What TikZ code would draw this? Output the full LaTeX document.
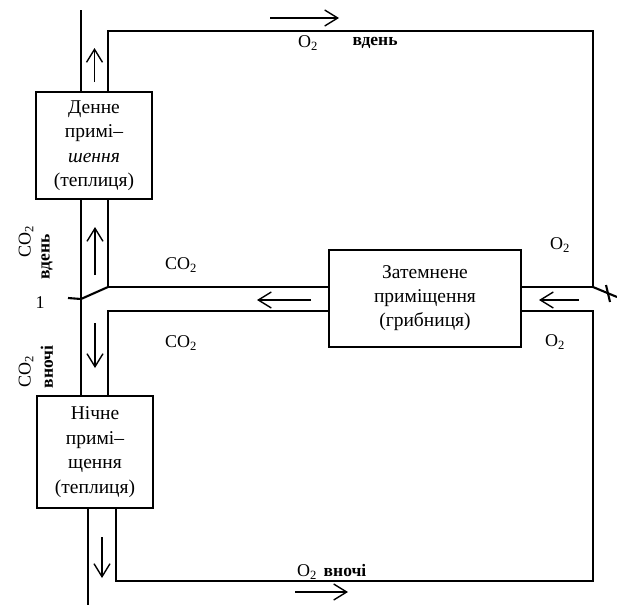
\documentclass[tikz,border=0pt]{standalone}
\usepackage{fontspec}
\setmainfont{Liberation Serif}
\usetikzlibrary{arrows.meta}
\begin{document}
\begin{tikzpicture}[x=1pt,y=-1pt,
  pipe/.style={line width=2.1pt, line join=miter},
  flow/.style={line width=1.4pt, -{Straight Barb[length=13pt,width=16pt,line width=1.4pt]}},
  room/.style={draw, line width=2.1pt, align=center, inner sep=0pt, font=\fontsize{19.5}{24.5}\selectfont},
  lbl/.style={font=\fontsize{18}{20}\selectfont, inner sep=0pt},
  wlbl/.style={font=\bfseries\fontsize{17.5}{20}\selectfont, inner sep=0pt}]
\useasboundingbox (0,0) rectangle (617,605);
\fill[white] (0,0) rectangle (617,605);

% rooms
\node[room, minimum width=116pt, minimum height=107pt] (day) at (94,145.5)
  {Денне\\примі–\\{\itshape шення}\\(теплиця)};
\node[room, minimum width=116pt, minimum height=112pt] (night) at (95,452)
  {Нічне\\примі–\\щення\\(теплиця)};
\node[room, minimum width=192pt, minimum height=97pt, font=\fontsize{19.5}{24}\selectfont] (dark) at (425,298.5)
  {Затемнене\\приміщення\\(грибниця)};

% pipe corners
\coordinate (tlA) at (81,10);
\coordinate (trTop) at (108,31);
\coordinate (rTop) at (593,31);
\coordinate (rU) at (593,287);
\coordinate (rL) at (593,311);
\coordinate (rB) at (593,581);
\coordinate (lU) at (108,287);
\coordinate (lL) at (108,311);
\coordinate (bB) at (116,581);
\coordinate (bl) at (88,605);

% pipes
\draw[pipe] (tlA) -- (tlA |- day.north);
\draw[pipe] (trTop |- day.north) -- (trTop) -- (rTop) -- (rU) -- (rU -| dark.east);
\draw[pipe] (tlA |- day.south) -- (tlA |- night.north);
\draw[pipe] (lU |- day.south) -- (lU) -- (lU -| dark.west);
\draw[pipe] (lL -| dark.west) -- (lL) -- (lL |- night.north);
\draw[pipe] (rL -| dark.east) -- (rL) -- (rB) -- (bB) -- (bB |- night.south);
\draw[pipe] (bl |- night.south) -- (bl);

% valves
\coordinate (v1) at (68,298);
\coordinate (v2) at (81,299);
\draw[pipe] (v1) -- (v2) -- (lU);
\coordinate (v3) at (617,297);
\draw[pipe] (rU) -- (v3);
\coordinate (v4) at (606,285);
\coordinate (v5) at (610,302);
\draw[pipe] (v4) -- (v5);

% flow arrows
\coordinate (a1s) at (94.5,82);  \coordinate (a1e) at (94.5,48);
\coordinate (a2s) at (95,275);   \coordinate (a2e) at (95,227);
\coordinate (a3s) at (95,323);   \coordinate (a3e) at (95,368);
\coordinate (a4s) at (102,537);  \coordinate (a4e) at (102,578);
\coordinate (a5s) at (270,18);   \coordinate (a5e) at (339,18);
\coordinate (a6s) at (295,592);  \coordinate (a6e) at (348,592);
\coordinate (a7s) at (311,300);  \coordinate (a7e) at (257,300);
\coordinate (a8s) at (579,300);  \coordinate (a8e) at (539,300);
\draw[flow] (a1s) -- (a1e);
\draw[flow] (a2s) -- (a2e);
\draw[flow] (a3s) -- (a3e);
\draw[flow] (a4s) -- (a4e);
\draw[flow] (a5s) -- (a5e);
\draw[flow] (a6s) -- (a6e);
\draw[flow] (a7s) -- (a7e);
\draw[flow] (a8s) -- (a8e);

% labels
\node[lbl] (o2top) at (308,43) {O\textsubscript{2}};
\node[wlbl] (dtop) at (375,43) {вдень};
\node[lbl] (o2bot) at (307,572) {O\textsubscript{2}};
\node[wlbl] (nbot) at (345,571) {вночі};
\node[lbl] (co2u) at (181,265) {CO\textsubscript{2}};
\node[lbl] (co2l) at (181,343) {CO\textsubscript{2}};
\node[lbl] (o2ru) at (560,245) {O\textsubscript{2}};
\node[lbl] (o2rl) at (555,342) {O\textsubscript{2}};
\node[lbl, rotate=90] (co2lu) at (26,242) {CO\textsubscript{2}};
\node[wlbl, rotate=90] (dleft) at (47,257) {вдень};
\node[lbl] (one) at (40,303) {1};
\node[wlbl, rotate=90] (nleft) at (47,367) {вночі};
\node[lbl, rotate=90] (co2ll) at (26,372) {CO\textsubscript{2}};
\end{tikzpicture}
\end{document}
